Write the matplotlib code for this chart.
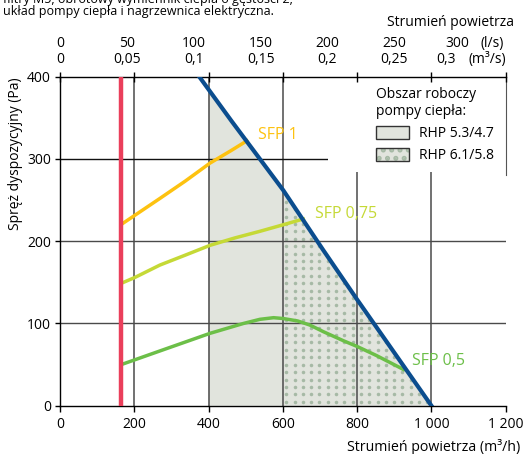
import numpy as np
import matplotlib
matplotlib.use("Agg")
import matplotlib.pyplot as plt
from matplotlib.patches import Patch, Rectangle
from matplotlib.legend_handler import HandlerTuple
from matplotlib.transforms import blended_transform_factory, ScaledTranslation

plt.rcParams['font.family'] = ['Open Sans', 'DejaVu Sans']
plt.rcParams['hatch.linewidth'] = 2.4

# ---- data -------------------------------------------------------------
x_ticks = [0, 200, 400, 600, 800, 1000, 1200]
x_ticklabels = ['0', '200', '400', '600', '800', '1 000', '1 200']
y_ticks = [0, 100, 200, 300, 400]
ls_ticks = [0, 50, 100, 150, 200, 250, 300]
ms_ticklabels = ['0', '0,05', '0,1', '0,15', '0,2', '0,25', '0,3']

min_flow = 164  # m3/h, minimum air flow

limit_q = [375, 462, 601, 709, 800, 1000]
limit_p = [400, 346, 262, 189, 129, 0]

sfp1_q = [167, 269, 337, 404, 460, 503]
sfp1_p = [221, 252, 273, 295, 310, 322]

sfp075_q = [166, 202, 269, 337, 404, 471, 538, 601, 655]
sfp075_p = [149, 156, 171, 183, 195, 204, 212, 220, 227]

sfp05_q = [165, 278, 404, 494, 538, 575, 601, 640, 673, 709, 763, 800, 852, 925]
sfp05_p = [50, 68, 88, 100, 105, 107, 106, 103, 98, 90, 79, 72, 61, 44]

rhp_a_start = 400   # RHP 5.3/4.7 working area starts here
rhp_b_start = 600   # RHP 6.1/5.8 working area starts here

# ---- colours ----------------------------------------------------------
c_red = '#ea3f5b'
c_blue = '#0b4d8e'
c_yellow = '#fdc210'
c_lime = '#c5d936'
c_green = '#6cbf48'
c_area = '#e1e4dd'
c_dots = '#a6b9a5'
c_grid = '#4a4a4a'

fig = plt.figure(figsize=(5.25, 4.54), dpi=100)
ax = fig.add_axes([60 / 525, 1 - 405.7 / 454, 445.7 / 525, 329 / 454])
ax.set_xlim(0, 1200)
ax.set_ylim(0, 400)

# working areas bounded by the limit line
qa = np.linspace(rhp_a_start, limit_q[-1], 300)
ax.fill_between(qa, 0, np.interp(qa, limit_q, limit_p), facecolor=c_area,
                edgecolor='none', linewidth=0, zorder=1)
qb = np.linspace(rhp_b_start, limit_q[-1], 300)
area_b = ax.fill_between(qb, 0, np.interp(qb, limit_q, limit_p), facecolor='none',
                         edgecolor='none', linewidth=0, zorder=1.1)

# dotted texture of the second area (8.3 px x 7.4 px pitch)
px_q = 1200 / 445.7
px_p = 400 / 329
gq, gp = np.meshgrid(np.arange(rhp_b_start + 3.4 * px_q, limit_q[-1], 8.3 * px_q),
                     np.arange(4.0 * px_p, 400, 7.4 * px_p))
dots = ax.scatter(gq.ravel(), gp.ravel(), s=6.5, color=c_dots, linewidths=0, zorder=1.1)
dots.set_clip_path(area_b.get_paths()[0], ax.transData)

# grid
for q in x_ticks[1:-1]:
    ax.axvline(q, color=c_grid, lw=1.1, zorder=1.5)
for p in y_ticks[1:-1]:
    ax.axhline(p, color='#111111' if p == 300 else c_grid, lw=1.0, zorder=1.5)

# white panel behind the legend
ax.add_patch(Rectangle((0.601, 0.71), 0.399, 0.29, transform=ax.transAxes,
                       facecolor='white', edgecolor='none', zorder=2))

# curves
ax.axvline(min_flow, color=c_red, lw=3.2, zorder=5, solid_capstyle='round')
ax.plot(limit_q, limit_p, color=c_blue, lw=3.0, zorder=6)
ax.plot(sfp1_q, sfp1_p, color=c_yellow, lw=2.5, zorder=4)
ax.plot(sfp075_q, sfp075_p, color=c_lime, lw=2.5, zorder=4)
ax.plot(sfp05_q, sfp05_p, color=c_green, lw=2.5, zorder=4)

ax.text(533, 329, 'SFP 1', color=c_yellow, fontsize=11.5, va='center', ha='left', zorder=7)
ax.text(687, 233, 'SFP 0,75', color=c_lime, fontsize=11.5, va='center', ha='left', zorder=7)
ax.text(948, 54, 'SFP 0,5', color=c_green, fontsize=11.5, va='center', ha='left', zorder=7)

# axes styling
ax.set_axisbelow(False)
for s in ['left', 'bottom', 'top']:
    ax.spines[s].set_linewidth(1.0)
    ax.spines[s].set_zorder(2.5)
ax.spines['right'].set_bounds(280, 400)
ax.spines['right'].set_color('#555555')

ax.set_xticks(x_ticks)
ax.set_xticklabels(x_ticklabels)
ax.set_yticks(y_ticks)
ax.tick_params(axis='x', direction='out', length=4, width=1.0, labelsize=10, pad=4)
ax.xaxis.set_tick_params(which='major', top=True, labeltop=False)
ax.tick_params(axis='y', direction='out', length=3.5, width=1.0, labelsize=10, pad=3)
for t in ax.xaxis.get_major_ticks():
    t.tick2line.set_marker('|')  # tick crossing the top spine
    t.tick2line.set_markersize(7)

ax.set_ylabel('Spręż dyspozycyjny (Pa)', fontsize=10)
ax.yaxis.set_label_coords((23 - 60) / 445.7, (405.7 - 154) / 329)
ax.set_xlabel('Strumień powietrza (m³/h)', fontsize=10.2, ha='right', va='center')
ax.xaxis.set_label_coords(1.032, -0.1255)

# top scales in l/s and m3/s
tr = blended_transform_factory(ax.transData, ax.transAxes)
for i, (v, lab) in enumerate(zip(ls_ticks, ms_ticklabels)):
    last = i == len(ls_ticks) - 1
    t1 = tr + ScaledTranslation(-0.04 if last else 0, 0, fig.dpi_scale_trans)
    t2 = tr + ScaledTranslation(-0.15 if last else 0, 0, fig.dpi_scale_trans)
    ax.text(v * 3.6, 1.1024, str(v), transform=t1, ha='center', va='center', fontsize=10)
    ax.text(v * 3.6, 1.0508, lab, transform=t2, ha='center', va='center', fontsize=10)
ax.text(0.996, 1.1024, '(l/s)', transform=ax.transAxes, ha='right', va='center', fontsize=10)
ax.text(1.0, 1.0508, '(m³/s)', transform=ax.transAxes, ha='right', va='center', fontsize=10)
ax.text(1.018, 1.166, 'Strumień powietrza', transform=ax.transAxes, ha='right',
        va='center', fontsize=10)

# legend
h_a = Patch(facecolor=c_area, edgecolor='#333333', linewidth=1.0)
h_b = (Patch(facecolor=c_area, edgecolor=c_dots, hatch='..', linewidth=0),
       Patch(facecolor='none', edgecolor='#333333', linewidth=1.0))
leg = ax.legend([h_a, h_b], ['RHP 5.3/4.7', 'RHP 6.1/5.8'],
                handler_map={tuple: HandlerTuple(ndivide=1, pad=0)},
                title='Obszar roboczy\npompy ciepła:',
                loc='upper left', bbox_to_anchor=((376 - 60) / 445.7, (405.7 - 87) / 329),
                frameon=False, fontsize=10, title_fontsize=10, alignment='left',
                handlelength=2.4, handleheight=1.0, handletextpad=0.7,
                labelspacing=0.5, borderaxespad=0, borderpad=0)
leg.set_zorder(8)

# caption lines at the top
fig.text(3 / 525, 1 + 1 / 454, 'filtry M5, obrotowy wymiennik ciepła o gęstości 2,',
         ha='left', va='center', fontsize=9)
fig.text(3 / 525, 1 - 12 / 454, 'układ pompy ciepła i nagrzewnica elektryczna.',
         ha='left', va='center', fontsize=9)

fig.savefig('out.png', dpi=100)
